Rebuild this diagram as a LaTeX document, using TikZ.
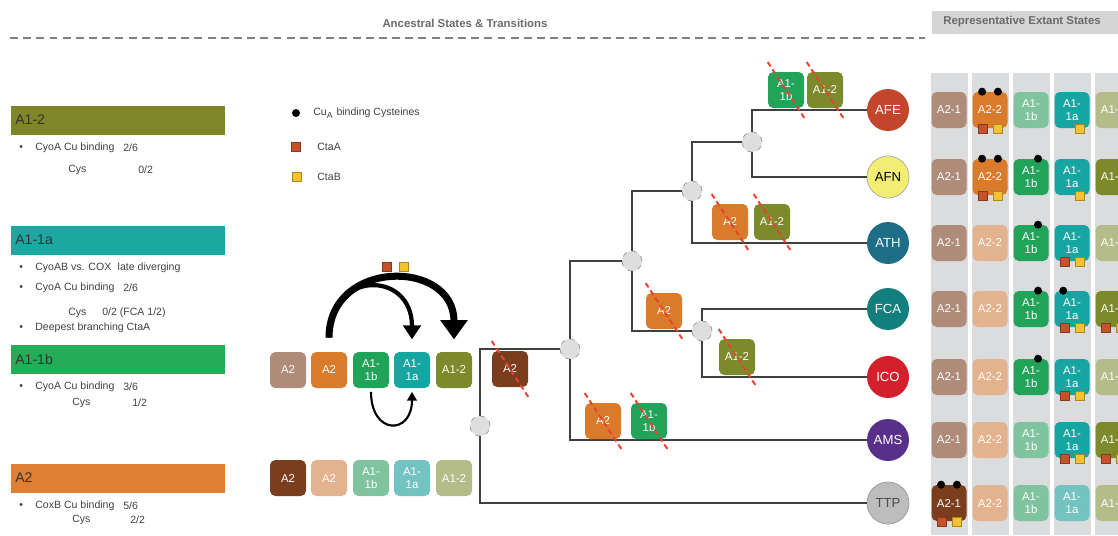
\documentclass[tikz,border=0pt]{standalone}
\usepackage{fontspec}
\setmainfont{Liberation Sans}
\usetikzlibrary{arrows.meta}

\definecolor{tanA}{HTML}{AF8B79}
\definecolor{darkA}{HTML}{7A3E1E}
\definecolor{orangeA}{HTML}{DA7B2C}
\definecolor{peachA}{HTML}{E3B28E}
\definecolor{greenB}{HTML}{21A35A}
\definecolor{palegreenB}{HTML}{80C49F}
\definecolor{tealB}{HTML}{17A5A2}
\definecolor{paletealB}{HTML}{72C3C2}
\definecolor{oliveC}{HTML}{7D8A2B}
\definecolor{paleoliveC}{HTML}{B4BD89}
\definecolor{barolive}{HTML}{7F8628}
\definecolor{barteal}{HTML}{1BA8A0}
\definecolor{bargreen}{HTML}{22AD56}
\definecolor{barorange}{HTML}{E07F33}
\definecolor{ctaA}{HTML}{C4532B}
\definecolor{ctaB}{HTML}{F2C230}
\definecolor{lostred}{HTML}{E8412F}
\definecolor{colgray}{HTML}{DBDCDE}
\definecolor{hdgray}{HTML}{D5D5D5}
\definecolor{titlegray}{HTML}{6B6B6B}
\definecolor{tipAFE}{HTML}{C3452B}
\definecolor{tipAFN}{HTML}{F2EE74}
\definecolor{tipATH}{HTML}{1E6E88}
\definecolor{tipFCA}{HTML}{127F7C}
\definecolor{tipICO}{HTML}{D4202C}
\definecolor{tipAMS}{HTML}{58308A}
\definecolor{tipTTP}{HTML}{BDBDBD}

\begin{document}
\begin{tikzpicture}[x=0.02cm, y=-0.02cm,
statebox/.style={rectangle, rounded corners=3pt, minimum width=0.72cm, minimum height=0.72cm, inner sep=0pt, text=white!92, align=center, font=\fontsize{6.5}{7}\selectfont},
extbox/.style={statebox, minimum width=0.7cm},
tipnode/.style={circle, minimum size=0.84cm, inner sep=0pt, text=white, font=\fontsize{7.5}{8}\selectfont},
treenode/.style={circle, draw=black!40, dashed, fill=black!13, minimum size=0.4cm, inner sep=0pt},
branch/.style={draw=black!75, line width=1pt},
lost/.style={draw=lostred, line width=1.1pt, dash pattern=on 3pt off 2pt},
cudot/.style={circle, fill=black, minimum size=0.16cm, inner sep=0pt},
sqA/.style={rectangle, fill=ctaA, draw=ctaA!70!black, line width=0.3pt, minimum size=0.18cm, inner sep=0pt},
sqB/.style={rectangle, fill=ctaB, draw=ctaB!70!black, line width=0.3pt, minimum size=0.18cm, inner sep=0pt},
headbar/.style={anchor=west, minimum height=0.58cm, text width=4.12cm, inner xsep=0.08cm, align=left, font=\fontsize{8}{9}\selectfont, text=black!80},
note/.style={anchor=west, inner sep=0pt, font=\fontsize{6}{7}\selectfont, text=black!75}
]
    \clip (0,0) rectangle (1118,535);

    % titles
    \node [font=\bfseries\fontsize{6.5}{7}\selectfont, text=titlegray] (t1) at (465,23) {Ancestral States \& Transitions};
    \draw [black!50, line width=0.8pt, dash pattern=on 4.5pt off 3pt] (10,38) -- (925,38);
    \fill [hdgray] (932,11) rectangle (1118,34);
    \node [anchor=west, inner sep=0pt, font=\bfseries\fontsize{6.5}{7}\selectfont, text=titlegray] (t2) at (943,22) {Representative Extant States};

    % left panel
    \node [headbar, fill=barolive] (h1) at (11,120) {A1-2};
    \node [note] (h1a) at (19,148) {\textbullet};
    \node [note] (h1b) at (35,148) {CyoA Cu binding};
    \node [note] (h1c) at (123,148) {2/6};
    \node [note] (h1d) at (68,170) {Cys};
    \node [note] (h1e) at (138,170) {0/2};

    \node [headbar, fill=barteal] (h2) at (11,240) {A1-1a};
    \node [note] (h2a) at (19,268) {\textbullet};
    \node [note] (h2b) at (35,268) {CyoAB vs. COX\hspace{2pt} late diverging};
    \node [note] (h2c) at (19,288) {\textbullet};
    \node [note] (h2d) at (35,288) {CyoA Cu binding};
    \node [note] (h2e) at (123,288) {2/6};
    \node [note] (h2f) at (68,313) {Cys};
    \node [note] (h2g) at (102,313) {0/2 (FCA 1/2)};
    \node [note] (h2h) at (19,328) {\textbullet};
    \node [note] (h2i) at (35,328) {Deepest branching CtaA};

    \node [headbar, fill=bargreen] (h3) at (11,359) {A1-1b};
    \node [note] (h3a) at (19,387) {\textbullet};
    \node [note] (h3b) at (35,387) {CyoA Cu binding};
    \node [note] (h3c) at (123,387) {3/6};
    \node [note] (h3d) at (72,403) {Cys};
    \node [note] (h3e) at (132,403) {1/2};

    \node [headbar, fill=barorange] (h4) at (11,478) {A2};
    \node [note] (h4a) at (19,506) {\textbullet};
    \node [note] (h4b) at (35,506) {CoxB Cu binding};
    \node [note] (h4c) at (123,506) {5/6};
    \node [note] (h4d) at (72,520) {Cys};
    \node [note] (h4e) at (130,520) {2/2};

    % legend
    \node [cudot] (l1) at (296,113) {};
    \node [note] (l1t) at (313,113) {Cu\textsubscript{A} binding Cysteines};
    \node [sqA] (l2) at (296,147) {};
    \node [note] (l2t) at (317,147) {CtaA};
    \node [sqB] (l3) at (297,177) {};
    \node [note] (l3t) at (317,177) {CtaB};

    % states and transitions
    \node [statebox, fill=tanA] (s1) at (288,370) {A2};
    \node [statebox, fill=orangeA] (s2) at (329,370) {A2};
    \node [statebox, fill=greenB] (s3) at (371,370) {A1-\\1b};
    \node [statebox, fill=tealB] (s4) at (412,370) {A1-\\1a};
    \node [statebox, fill=oliveC] (s5) at (454,370) {A1-2};

    \node [statebox, fill=darkA] (p1) at (288,478) {A2};
    \node [statebox, fill=peachA] (p2) at (329,478) {A2};
    \node [statebox, fill=palegreenB] (p3) at (371,478) {A1-\\1b};
    \node [statebox, fill=paletealB] (p4) at (412,478) {A1-\\1a};
    \node [statebox, fill=paleoliveC] (p5) at (454,478) {A1-2};

    \node [sqA] (q1) at (387,267) {};
    \node [sqB] (q2) at (404,267) {};

    \draw [line width=4pt, -{Triangle[width=15pt,length=11pt]}, shorten <=8pt, shorten >=7pt] (s2.north) .. controls +(0,-93) and +(0,-93) .. (s5.north);
    \draw [line width=2.4pt, -{Triangle[width=10pt,length=8pt]}, shorten <=8pt, shorten >=7pt] (s2.north) .. controls +(0,-82) and +(0,-82) .. (s4.north);
    \draw [line width=1.2pt, -{Triangle[width=5.5pt,length=5pt]}, shorten <=2pt, shorten >=2pt] (s3.south) .. controls +(0,47) and +(0,47) .. (s4.south);

    % tree
    \node [treenode] (r) at (480,426) {};
    \node [treenode] (n2) at (570,349) {};
    \node [treenode] (n3) at (632,261) {};
    \node [treenode] (n4) at (692,191) {};
    \node [treenode] (n5) at (702,331) {};
    \node [treenode] (n6) at (752,142) {};

    \node [tipnode, fill=tipAFE] (afe) at (888,110) {AFE};
    \node [tipnode, fill=tipAFN, draw=black!35, text=black] (afn) at (888,177) {AFN};
    \node [tipnode, fill=tipATH] (ath) at (888,243) {ATH};
    \node [tipnode, fill=tipFCA] (fca) at (888,309) {FCA};
    \node [tipnode, fill=tipICO] (ico) at (888,377) {ICO};
    \node [tipnode, fill=tipAMS] (ams) at (888,440) {AMS};
    \node [tipnode, fill=tipTTP, draw=black!40, text=black!70] (ttp) at (888,503) {TTP};

    \draw [branch] (r) |- (n2);
    \draw [branch] (r) |- (ttp);
    \draw [branch] (n2) |- (n3);
    \draw [branch] (n2) |- (ams);
    \draw [branch] (n3) |- (n4);
    \draw [branch] (n3) |- (n5);
    \draw [branch] (n4) |- (n6);
    \draw [branch] (n4) |- (ath);
    \draw [branch] (n6) |- (afe);
    \draw [branch] (n6) |- (afn);
    \draw [branch] (n5) |- (fca);
    \draw [branch] (n5) |- (ico);

    % losses on branches
    \node [statebox, fill=darkA] (x1) at (510,369) {A2};
    \node [statebox, fill=orangeA] (x2) at (603,421) {A2};
    \node [statebox, fill=greenB] (x3) at (649,421) {A1-\\1b};
    \node [statebox, fill=orangeA] (x4) at (664,311) {A2};
    \node [statebox, fill=oliveC] (x5) at (737,357) {A1-2};
    \node [statebox, fill=orangeA] (x6) at (730,222) {A2};
    \node [statebox, fill=oliveC] (x7) at (772,222) {A1-2};
    \node [statebox, fill=greenB] (x8) at (786,90) {A1-\\1b};
    \node [statebox, fill=oliveC] (x9) at (825,90) {A1-2};
    \draw [lost] ([yshift=5.5pt]x1.north west) -- ([yshift=-5.5pt]x1.south east);
    \draw [lost] ([yshift=5.5pt]x2.north west) -- ([yshift=-5.5pt]x2.south east);
    \draw [lost] ([yshift=5.5pt]x3.north west) -- ([yshift=-5.5pt]x3.south east);
    \draw [lost] ([yshift=5.5pt]x4.north west) -- ([yshift=-5.5pt]x4.south east);
    \draw [lost] ([yshift=5.5pt]x5.north west) -- ([yshift=-5.5pt]x5.south east);
    \draw [lost] ([yshift=5.5pt]x6.north west) -- ([yshift=-5.5pt]x6.south east);
    \draw [lost] ([yshift=5.5pt]x7.north west) -- ([yshift=-5.5pt]x7.south east);
    \draw [lost] ([yshift=5.5pt]x8.north west) -- ([yshift=-5.5pt]x8.south east);
    \draw [lost] ([yshift=5.5pt]x9.north west) -- ([yshift=-5.5pt]x9.south east);

    % extant states
    \foreach \cx in {949,990,1031,1072,1113}
        \fill [colgray] (\cx-18.5,73) rectangle (\cx+18.5,535);

    \node [extbox, fill=tanA] (a1) at (949,110) {A2-1};
    \node [extbox, fill=orangeA] (a2) at (990,110) {A2-2};
    \node [extbox, fill=palegreenB] (a3) at (1031,110) {A1-\\1b};
    \node [extbox, fill=tealB] (a4) at (1072,110) {A1-\\1a};
    \node [extbox, fill=paleoliveC] (a5) at (1113,110) {A1-2};
    \node [cudot] (a2d1) at ([xshift=-4.5pt]a2.north) {};
    \node [cudot] (a2d2) at ([xshift=4.5pt]a2.north) {};
    \node [sqA] (a2s1) at ([xshift=-4.3pt]a2.south) {};
    \node [sqB] (a2s2) at ([xshift=4.5pt]a2.south) {};
    \node [sqB] (a4s2) at ([xshift=4.5pt]a4.south) {};

    \node [extbox, fill=tanA] (b1) at (949,177) {A2-1};
    \node [extbox, fill=orangeA] (b2) at (990,177) {A2-2};
    \node [extbox, fill=greenB] (b3) at (1031,177) {A1-\\1b};
    \node [extbox, fill=tealB] (b4) at (1072,177) {A1-\\1a};
    \node [extbox, fill=oliveC] (b5) at (1113,177) {A1-2};
    \node [cudot] (b2d1) at ([xshift=-4.5pt]b2.north) {};
    \node [cudot] (b2d2) at ([xshift=4.5pt]b2.north) {};
    \node [sqA] (b2s1) at ([xshift=-4.3pt]b2.south) {};
    \node [sqB] (b2s2) at ([xshift=4.5pt]b2.south) {};
    \node [cudot] (b3d1) at ([xshift=4pt]b3.north) {};
    \node [sqB] (b4s2) at ([xshift=4.5pt]b4.south) {};

    \node [extbox, fill=tanA] (c1) at (949,243) {A2-1};
    \node [extbox, fill=peachA] (c2) at (990,243) {A2-2};
    \node [extbox, fill=greenB] (c3) at (1031,243) {A1-\\1b};
    \node [extbox, fill=tealB] (c4) at (1072,243) {A1-\\1a};
    \node [extbox, fill=paleoliveC] (c5) at (1113,243) {A1-2};
    \node [cudot] (c3d1) at ([xshift=4pt]c3.north) {};
    \node [sqA] (c4s1) at ([xshift=-4.3pt]c4.south) {};
    \node [sqB] (c4s2) at ([xshift=4.5pt]c4.south) {};

    \node [extbox, fill=tanA] (d1) at (949,309) {A2-1};
    \node [extbox, fill=peachA] (d2) at (990,309) {A2-2};
    \node [extbox, fill=greenB] (d3) at (1031,309) {A1-\\1b};
    \node [extbox, fill=tealB] (d4) at (1072,309) {A1-\\1a};
    \node [extbox, fill=oliveC] (d5) at (1113,309) {A1-2};
    \node [cudot] (d3d1) at ([xshift=4pt]d3.north) {};
    \node [cudot] (d4d1) at ([xshift=-5pt]d4.north) {};
    \node [sqA] (d4s1) at ([xshift=-4.3pt]d4.south) {};
    \node [sqB] (d4s2) at ([xshift=4.5pt]d4.south) {};
    \node [sqA] (d5s1) at ([xshift=-4.3pt]d5.south) {};
    \node [sqB] (d5s2) at ([xshift=4.5pt]d5.south) {};

    \node [extbox, fill=tanA] (e1) at (949,377) {A2-1};
    \node [extbox, fill=peachA] (e2) at (990,377) {A2-2};
    \node [extbox, fill=greenB] (e3) at (1031,377) {A1-\\1b};
    \node [extbox, fill=tealB] (e4) at (1072,377) {A1-\\1a};
    \node [extbox, fill=paleoliveC] (e5) at (1113,377) {A1-2};
    \node [cudot] (e3d1) at ([xshift=4pt]e3.north) {};
    \node [sqA] (e4s1) at ([xshift=-4.3pt]e4.south) {};
    \node [sqB] (e4s2) at ([xshift=4.5pt]e4.south) {};

    \node [extbox, fill=tanA] (f1) at (949,440) {A2-1};
    \node [extbox, fill=peachA] (f2) at (990,440) {A2-2};
    \node [extbox, fill=palegreenB] (f3) at (1031,440) {A1-\\1b};
    \node [extbox, fill=tealB] (f4) at (1072,440) {A1-\\1a};
    \node [extbox, fill=oliveC] (f5) at (1113,440) {A1-2};
    \node [sqA] (f4s1) at ([xshift=-4.3pt]f4.south) {};
    \node [sqB] (f4s2) at ([xshift=4.5pt]f4.south) {};
    \node [sqA] (f5s1) at ([xshift=-4.3pt]f5.south) {};
    \node [sqB] (f5s2) at ([xshift=4.5pt]f5.south) {};

    \node [extbox, fill=darkA] (g1) at (949,503) {A2-1};
    \node [extbox, fill=peachA] (g2) at (990,503) {A2-2};
    \node [extbox, fill=palegreenB] (g3) at (1031,503) {A1-\\1b};
    \node [extbox, fill=paletealB] (g4) at (1072,503) {A1-\\1a};
    \node [extbox, fill=paleoliveC] (g5) at (1113,503) {A1-2};
    \node [cudot] (g1d1) at ([xshift=-4.5pt]g1.north) {};
    \node [cudot] (g1d2) at ([xshift=4.5pt]g1.north) {};
    \node [sqA] (g1s1) at ([xshift=-4.3pt]g1.south) {};
    \node [sqB] (g1s2) at ([xshift=4.5pt]g1.south) {};
\end{tikzpicture}
\end{document}
